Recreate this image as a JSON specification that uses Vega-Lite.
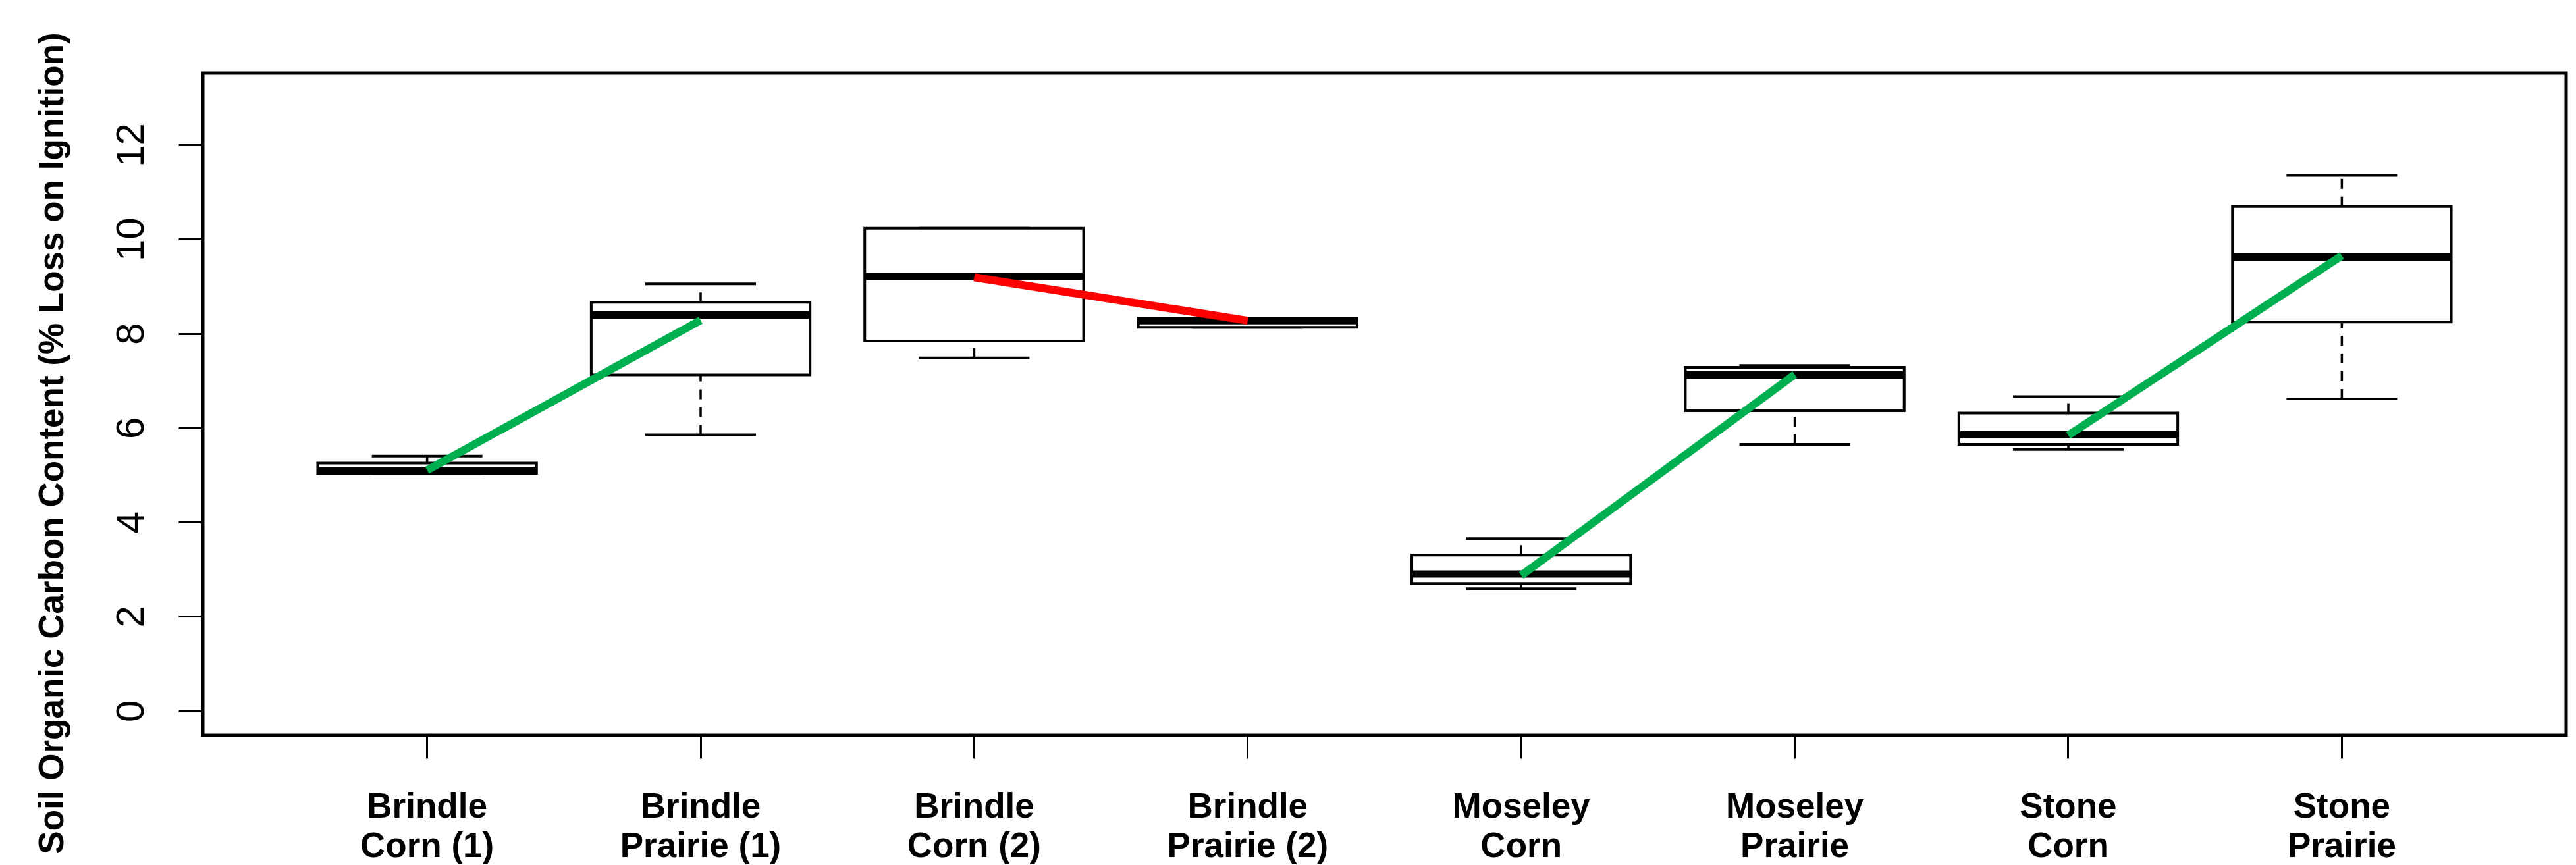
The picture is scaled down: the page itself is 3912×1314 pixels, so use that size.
{
  "$schema": "https://vega.github.io/schema/vega-lite/v6.json",
  "width": 3589,
  "height": 1006,
  "autosize": {"type": "none"},
  "padding": {"left": 308, "top": 111, "right": 15, "bottom": 197},
  "background": "white",
  "data": {
    "values": [
      {"group": "Brindle|Corn (1)", "min": 5.03, "q1": 5.03, "med": 5.09, "q3": 5.25, "max": 5.40, "line": 5.10, "pair": "A", "trend": "increase"},
      {"group": "Brindle|Prairie (1)", "min": 5.85, "q1": 7.12, "med": 8.39, "q3": 8.66, "max": 9.05, "line": 8.28, "pair": "A", "trend": "increase"},
      {"group": "Brindle|Corn (2)", "min": 7.48, "q1": 7.84, "med": 9.21, "q3": 10.23, "max": 10.23, "line": 9.19, "pair": "B", "trend": "decrease"},
      {"group": "Brindle|Prairie (2)", "min": 8.13, "q1": 8.13, "med": 8.27, "q3": 8.33, "max": 8.33, "line": 8.27, "pair": "B", "trend": "decrease"},
      {"group": "Moseley|Corn", "min": 2.59, "q1": 2.70, "med": 2.90, "q3": 3.30, "max": 3.65, "line": 2.87, "pair": "C", "trend": "increase"},
      {"group": "Moseley|Prairie", "min": 5.65, "q1": 6.36, "med": 7.12, "q3": 7.28, "max": 7.32, "line": 7.13, "pair": "C", "trend": "increase"},
      {"group": "Stone|Corn", "min": 5.54, "q1": 5.65, "med": 5.85, "q3": 6.31, "max": 6.66, "line": 5.84, "pair": "D", "trend": "increase"},
      {"group": "Stone|Prairie", "min": 6.61, "q1": 8.24, "med": 9.62, "q3": 10.69, "max": 11.35, "line": 9.65, "pair": "D", "trend": "increase"}
    ]
  },
  "encoding": {
    "x": {
      "field": "group",
      "type": "nominal",
      "sort": null,
      "scale": {"paddingInner": 0.2, "paddingOuter": 0.42},
      "axis": {
        "title": null,
        "domain": false,
        "labelAngle": 0,
        "labelExpr": "split(datum.label, '|')",
        "labelFont": "Liberation Sans",
        "labelFontSize": 53,
        "labelFontWeight": "bold",
        "labelColor": "black",
        "labelLineHeight": 60,
        "labelBaseline": "top",
        "labelPadding": 47,
        "labelOverlap": false,
        "labelFlush": false,
        "labelLimit": 0,
        "tickSize": 35,
        "tickWidth": 3,
        "tickColor": "black",
        "grid": false
      }
    }
  },
  "layer": [
    {
      "mark": {"type": "rule", "color": "black", "strokeWidth": 3.5, "strokeDash": [15, 12]},
      "encoding": {
        "y": {
          "field": "q3",
          "type": "quantitative",
          "title": "Soil Organic Carbon Content (% Loss on Ignition)",
          "scale": {"domain": [-0.52, 13.52], "nice": false, "zero": false},
          "axis": {"values": [0, 2, 4, 6, 8, 10, 12]}
        },
        "y2": {"field": "max"}
      }
    },
    {
      "mark": {"type": "rule", "color": "black", "strokeWidth": 3.5, "strokeDash": [15, 12]},
      "encoding": {
        "y": {"field": "min", "type": "quantitative", "title": "Soil Organic Carbon Content (% Loss on Ignition)", "axis": {"values": [0, 2, 4, 6, 8, 10, 12]}},
        "y2": {"field": "q1"}
      }
    },
    {
      "mark": {"type": "tick", "color": "black", "opacity": 1, "size": 168, "thickness": 4},
      "encoding": {"y": {"field": "max", "type": "quantitative", "title": "Soil Organic Carbon Content (% Loss on Ignition)", "axis": {"values": [0, 2, 4, 6, 8, 10, 12]}}}
    },
    {
      "mark": {"type": "tick", "color": "black", "opacity": 1, "size": 168, "thickness": 4},
      "encoding": {"y": {"field": "min", "type": "quantitative", "title": "Soil Organic Carbon Content (% Loss on Ignition)", "axis": {"values": [0, 2, 4, 6, 8, 10, 12]}}}
    },
    {
      "mark": {"type": "bar", "fill": "white", "stroke": "black", "strokeWidth": 4, "opacity": 1},
      "encoding": {
        "y": {"field": "q1", "type": "quantitative", "title": "Soil Organic Carbon Content (% Loss on Ignition)", "axis": {"values": [0, 2, 4, 6, 8, 10, 12]}},
        "y2": {"field": "q3"}
      }
    },
    {
      "mark": {"type": "tick", "color": "black", "opacity": 1, "size": 334, "thickness": 11},
      "encoding": {"y": {"field": "med", "type": "quantitative", "title": "Soil Organic Carbon Content (% Loss on Ignition)", "axis": {"values": [0, 2, 4, 6, 8, 10, 12]}}}
    },
    {
      "mark": {"type": "line", "strokeWidth": 12, "strokeCap": "butt", "opacity": 1},
      "encoding": {
        "y": {"field": "line", "type": "quantitative", "title": "Soil Organic Carbon Content (% Loss on Ignition)", "axis": {"values": [0, 2, 4, 6, 8, 10, 12]}},
        "detail": {"field": "pair", "type": "nominal"},
        "color": {
          "field": "trend",
          "type": "nominal",
          "scale": {"domain": ["increase", "decrease"], "range": ["#00B050", "#FF0000"]},
          "legend": null
        }
      }
    }
  ],
  "config": {
    "view": {"stroke": "black", "strokeWidth": 5, "fill": "white"},
    "axisY": {
      "titleFont": "Liberation Sans",
      "titleFontSize": 53,
      "titleFontWeight": "bold",
      "titleColor": "black",
      "titleAngle": 270,
      "titleAlign": "center",
      "titleBaseline": "alphabetic",
      "titleX": -213,
      "titleY": 562,
      "domain": false,
      "grid": false,
      "tickSize": 37,
      "tickWidth": 3,
      "tickColor": "black",
      "labelAngle": 270,
      "labelAlign": "center",
      "labelBaseline": "alphabetic",
      "labelPadding": 54,
      "labelFont": "Liberation Sans",
      "labelFontSize": 60,
      "labelColor": "black",
      "labelLimit": 0
    }
  }
}
